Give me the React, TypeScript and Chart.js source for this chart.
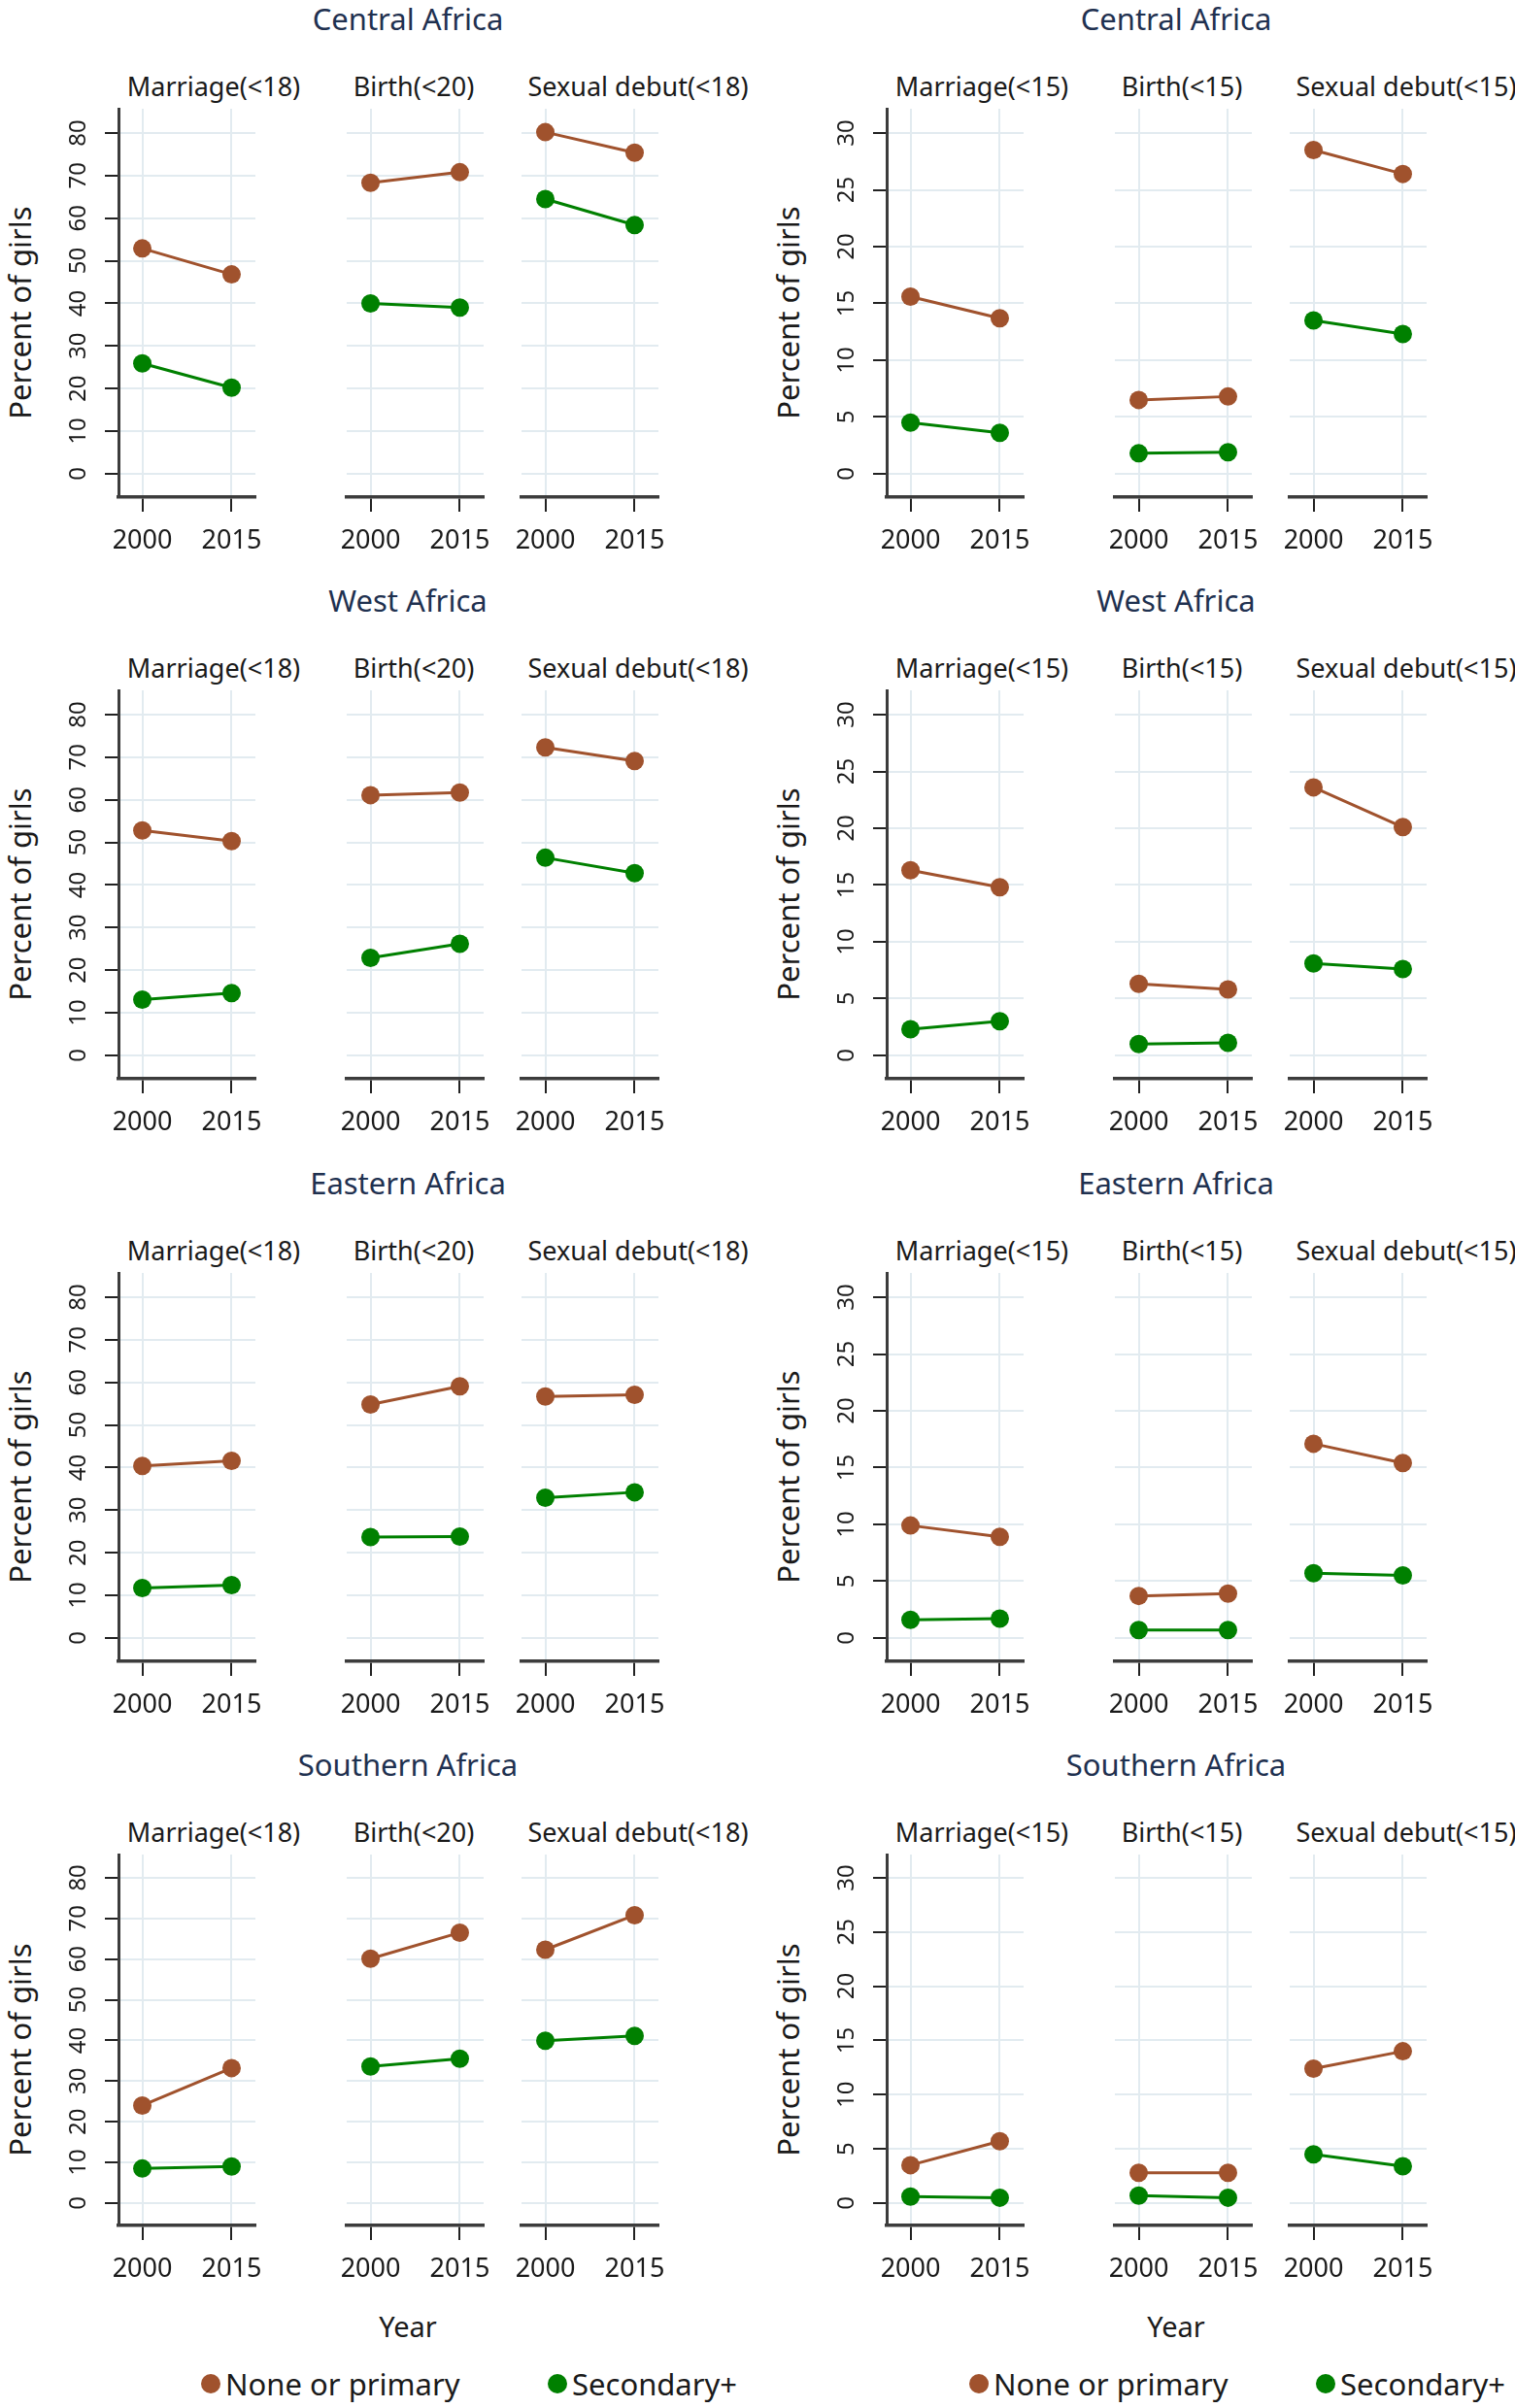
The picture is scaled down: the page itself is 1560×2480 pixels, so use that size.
import React, { useEffect, useRef } from 'react';
import { Chart, registerables } from 'chart.js';

Chart.register(...registerables);

const FONT = "'Noto Sans', 'Open Sans', sans-serif";
Chart.defaults.font.family = FONT;

// ---------- data ----------
const REGIONS = ['Central Africa', 'West Africa', 'Eastern Africa', 'Southern Africa'];
const YEARS = [2000, 2015];
const LEFT_INDICATORS = ['Marriage(<18)', 'Birth(<20)', 'Sexual debut(<18)'];
const RIGHT_INDICATORS = ['Marriage(<15)', 'Birth(<15)', 'Sexual debut(<15)'];
const SERIES = ['None or primary', 'Secondary+'];
const LEFT_Y_TICKS = [0, 10, 20, 30, 40, 50, 60, 70, 80];
const RIGHT_Y_TICKS = [0, 5, 10, 15, 20, 25, 30];
const X_TITLE = 'Year';
const Y_TITLE = 'Percent of girls';

// [region][indicator] = [2000, 2015]
const leftNone = [
  [[52.9, 46.8], [68.3, 70.8], [80.2, 75.4]],
  [[52.8, 50.3], [61.1, 61.7], [72.3, 69.1]],
  [[40.4, 41.6], [54.8, 59.1], [56.7, 57.1]],
  [[24.0, 33.2], [60.1, 66.5], [62.3, 70.8]],
];
const leftSecondary = [
  [[25.9, 20.2], [40.0, 39.0], [64.5, 58.4]],
  [[13.1, 14.6], [22.9, 26.2], [46.4, 42.8]],
  [[11.7, 12.4], [23.7, 23.8], [32.9, 34.2]],
  [[8.5, 9.0], [33.6, 35.5], [39.9, 41.1]],
];
const rightNone = [
  [[15.6, 13.7], [6.5, 6.8], [28.5, 26.4]],
  [[16.3, 14.8], [6.3, 5.8], [23.6, 20.1]],
  [[9.9, 8.9], [3.7, 3.9], [17.1, 15.4]],
  [[3.5, 5.7], [2.8, 2.8], [12.4, 14.0]],
];
const rightSecondary = [
  [[4.5, 3.6], [1.8, 1.9], [13.5, 12.3]],
  [[2.3, 3.0], [1.0, 1.1], [8.1, 7.6]],
  [[1.6, 1.7], [0.7, 0.7], [5.7, 5.5]],
  [[0.6, 0.5], [0.7, 0.5], [4.5, 3.4]],
];

// ---------- styling / layout ----------
const BROWN = '#a0522d';
const GREEN = '#008000';
const GRID = '#e2ebf0';
const AXIS = '#3c3c3c';
const TEXT = '#1a1a1a';
const TITLE_COLOR = '#1f3150';

const COL_OFF = [0, 791];
const ROW_OFF = [0, 599, 1199, 1798];
const PANEL_LEFT = [122, 357, 537];
const PANEL_W = 141;
const CHART_TOP = 112;
const CHART_H = [400, 400, 400, 382];
const SUB_X = [220, 426, 657];
const Y_AXIS_W = 122;
const X_AXIS_H = 70;
const PAD_T = 30;
const PAD_R = 35;
const PAD_L_INNER = 30;

type PanelProps = {
  left: number; top: number; chartH: number; showY: boolean;
  yMin: number; yMax: number; yTicks: number[];
  none: number[]; secondary: number[];
};

function Panel(p: PanelProps) {
  const ref = useRef<HTMLCanvasElement>(null);
  const padL = p.showY ? 0 : PAD_L_INNER;
  const yW = p.showY ? Y_AXIS_W : 0;
  const width = padL + yW + PANEL_W + PAD_R;
  const height = PAD_T + p.chartH + X_AXIS_H;
  const cLeft = p.left - yW - padL;
  const cTop = p.top - PAD_T;

  useEffect(() => {
    const mk = (label: string, vals: number[], color: string) => ({
      label,
      data: YEARS.map((x, i) => ({ x, y: vals[i] })),
      borderColor: color,
      backgroundColor: color,
      pointBackgroundColor: color,
      pointBorderColor: color,
      borderWidth: 3,
      pointRadius: 9.5,
      pointBorderWidth: 0,
      clip: false as any,
    });
    const chart = new Chart(ref.current!, {
      type: 'line',
      data: { datasets: [mk(SERIES[0], p.none, BROWN), mk(SERIES[1], p.secondary, GREEN)] },
      options: {
        responsive: false,
        animation: false,
        events: [],
        layout: { padding: { left: padL, right: PAD_R, top: PAD_T, bottom: 0 } },
        plugins: { legend: { display: false }, tooltip: { enabled: false }, title: { display: false } },
        scales: {
          x: {
            type: 'linear',
            min: 1996,
            max: 2019,
            afterBuildTicks: (s: any) => { s.ticks = YEARS.map((v) => ({ value: v })); },
            afterFit: (s: any) => { s.height = X_AXIS_H; },
            ticks: {
              autoSkip: false, maxRotation: 0, padding: 14, color: TEXT,
              font: { size: 27 }, callback: (v: any) => String(v),
            },
            grid: { color: GRID, lineWidth: 2, tickColor: '#222', tickWidth: 2, tickLength: 15 },
            border: { color: AXIS, width: 3.5 },
          },
          y: {
            type: 'linear',
            min: p.yMin,
            max: p.yMax,
            afterBuildTicks: (s: any) => { s.ticks = p.yTicks.map((v) => ({ value: v })); },
            afterFit: (s: any) => { s.width = yW; },
            ticks: {
              display: p.showY, autoSkip: false, minRotation: 90, maxRotation: 90,
              crossAlign: 'center', padding: 13, color: TEXT, font: { size: 24 },
              callback: (v: any) => String(v),
            },
            grid: {
              color: GRID, lineWidth: 2, tickColor: '#222', tickWidth: 2,
              tickLength: 14, drawTicks: p.showY,
            },
            border: { display: p.showY, color: AXIS, width: 3 },
            title: { display: false },
          },
        },
      } as any,
    });
    return () => chart.destroy();
  }, []);

  return (
    <canvas
      ref={ref}
      width={width}
      height={height}
      style={{ position: 'absolute', left: cLeft, top: cTop, width, height }}
    />
  );
}

function Label({ x, y, text, size, color, rotate }: { x: number; y: number; text: string; size: number; color?: string; rotate?: boolean }) {
  return (
    <div
      style={{
        position: 'absolute', left: x, top: y,
        transform: rotate ? 'translate(-50%, -50%) rotate(-90deg)' : 'translate(-50%, -50%)',
        whiteSpace: 'nowrap', fontSize: size, lineHeight: 1, color: color || TEXT,
        fontFamily: FONT,
      }}
    >
      {text}
    </div>
  );
}

function LegendItem({ x, y, color, text }: { x: number; y: number; color: string; text: string }) {
  return (
    <div style={{ position: 'absolute', left: x - 10, top: y - 10, display: 'flex', alignItems: 'center', whiteSpace: 'nowrap' }}>
      <div style={{ width: 20, height: 20, borderRadius: '50%', background: color }} />
      <div style={{ marginLeft: 5, fontSize: 31, lineHeight: '20px', color: TEXT, fontFamily: FONT }}>{text}</div>
    </div>
  );
}

export default function App() {
  const items: any[] = [];
  for (let r = 0; r < 4; r++) {
    for (let c = 0; c < 2; c++) {
      const ox = COL_OFF[c];
      const oy = ROW_OFF[r];
      items.push(<Label key={`t${r}${c}`} x={420 + ox} y={19 + oy} text={REGIONS[r]} size={31} color={TITLE_COLOR} />);
      items.push(<Label key={`yt${r}${c}`} x={20 + ox} y={CHART_TOP + oy + CHART_H[r] / 2 + 10} text={Y_TITLE} size={31} rotate />);
      const inds = c === 0 ? LEFT_INDICATORS : RIGHT_INDICATORS;
      for (let k = 0; k < 3; k++) {
        items.push(<Label key={`s${r}${c}${k}`} x={SUB_X[k] + ox} y={88 + oy} text={inds[k]} size={27} color={TEXT} />);
        items.push(
          <Panel
            key={`p${r}${c}${k}`}
            left={PANEL_LEFT[k] + ox}
            top={CHART_TOP + oy}
            chartH={CHART_H[r]}
            showY={k === 0}
            yMin={c === 0 ? -5.5 : -2.06}
            yMax={c === 0 ? 85.7 : 32.14}
            yTicks={c === 0 ? LEFT_Y_TICKS : RIGHT_Y_TICKS}
            none={(c === 0 ? leftNone : rightNone)[r][k]}
            secondary={(c === 0 ? leftSecondary : rightSecondary)[r][k]}
          />
        );
      }
    }
  }
  for (let c = 0; c < 2; c++) {
    const ox = COL_OFF[c];
    items.push(<Label key={`year${c}`} x={420 + ox} y={2395} text={X_TITLE} size={29} />);
    items.push(<LegendItem key={`lg0${c}`} x={217 + ox} y={2455} color={BROWN} text={SERIES[0]} />);
    items.push(<LegendItem key={`lg1${c}`} x={574 + ox} y={2455} color={GREEN} text={SERIES[1]} />);
  }
  return (
    <div style={{ position: 'absolute', left: 0, top: 0, width: 1560, height: 2480, background: '#ffffff', overflow: 'hidden' }}>
      {items}
    </div>
  );
}
